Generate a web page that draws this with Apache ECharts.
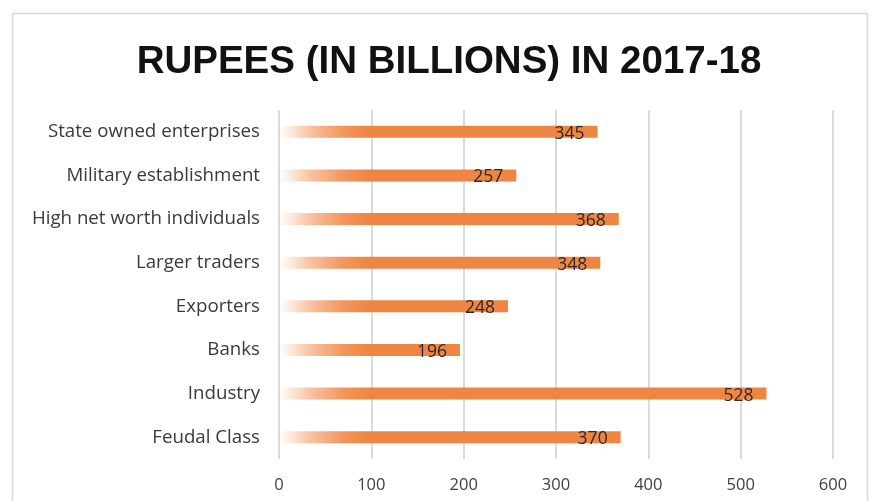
<!DOCTYPE html>
<html>
<head>
<meta charset="utf-8">
<script src="https://cdn.jsdelivr.net/npm/echarts@6/dist/echarts.min.js"></script>
<style>
  html, body { margin: 0; padding: 0; background: #fff; }
  #chart { width: 878px; height: 501px; }
</style>
</head>
<body>
<div id="chart"></div>
<script>
// 카테고리 (위에서 아래 순서)
var categories = ['State owned enterprises', 'Military establishment', 'High net worth individuals',
  'Larger traders', 'Exporters', 'Banks', 'Industry', 'Feudal Class'];
var values = [345, 257, 368, 348, 248, 196, 528, 370];

var chart = echarts.init(document.getElementById('chart'));

// 막대 왼쪽은 투명하게 시작
var barColor = new echarts.graphic.LinearGradient(279, 0, 370, 0, [
  { offset: 0, color: 'rgba(244,150,95,0)' },
  { offset: 0.35, color: 'rgba(242,142,82,0.55)' },
  { offset: 0.7, color: 'rgba(240,136,70,0.88)' },
  { offset: 1, color: 'rgba(239,133,66,1)' }
], true);

var option = {
  animation: false,
  title: {
    text: 'RUPEES (IN BILLIONS) IN 2017-18',
    left: 444,
    top: 38,
    textAlign: 'center',
    textStyle: {
      fontFamily: 'Liberation Sans Narrow, Liberation Sans, sans-serif',
      fontWeight: 'bold',
      fontSize: 38.5,
      color: '#111'
    }
  },
  graphic: [{
    type: 'rect',
    shape: { x: 12.5, y: 13.5, width: 855, height: 500 },
    style: { fill: 'none', stroke: '#d9d9d9', lineWidth: 1.5 },
    silent: true
  }],
  grid: {
    left: 279,
    right: 45,
    top: 110,
    bottom: 42
  },
  xAxis: {
    type: 'value',
    min: 0,
    max: 600,
    interval: 100,
    axisLine: { show: false },
    axisTick: { show: false },
    splitLine: { lineStyle: { color: '#cfcfcf', width: 1.5 } },
    axisLabel: {
      margin: 18,
      fontFamily: 'Open Sans, sans-serif',
      fontSize: 16.5,
      color: '#404040'
    }
  },
  yAxis: {
    type: 'category',
    inverse: true,
    data: categories,
    axisLine: { show: false },
    axisTick: { show: false },
    axisLabel: {
      margin: 19,
      fontFamily: 'Open Sans, sans-serif',
      fontSize: 18.7,
      color: '#3a3a3a'
    }
  },
  series: [{
    type: 'bar',
    data: values,
    barWidth: 12,
    itemStyle: { color: barColor },
    label: {
      show: true,
      position: 'insideRight',
      distance: 13,
      offset: [0, 2],
      fontFamily: 'Open Sans, sans-serif',
      fontSize: 17.5,
      color: '#2a2a2a'
    }
  }]
};

chart.setOption(option);
</script>
</body>
</html>
